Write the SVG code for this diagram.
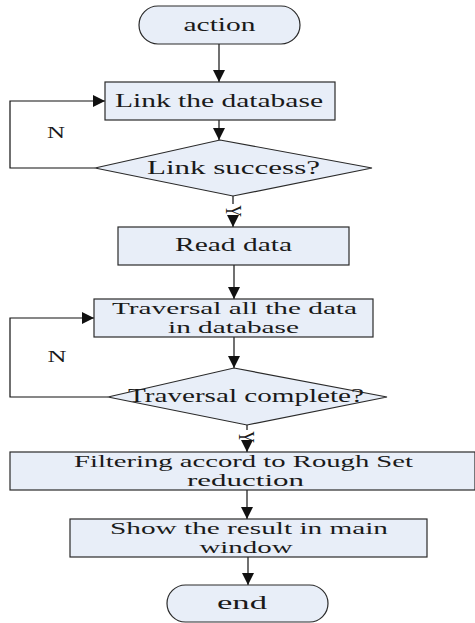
<svg xmlns="http://www.w3.org/2000/svg" width="475" height="623" viewBox="0 0 475 623">
  <style>
    .shape { fill: #E8EEF8; stroke: #2a2a2a; stroke-width: 1.2; }
    .label { font-family: "Liberation Serif", "Times New Roman", serif; font-size: 19px; fill: #1a1a1a; text-anchor: middle; }
    .small { font-size: 16.5px; }
    .tag { font-family: "Liberation Serif", "Times New Roman", serif; font-size: 16px; fill: #1a1a1a; text-anchor: middle; }
    .flow { fill: none; stroke: #111; stroke-width: 1.2; }
  </style>
  <defs>
    <marker id="arrow" markerUnits="userSpaceOnUse" markerWidth="12" markerHeight="12" refX="12" refY="6" orient="auto">
      <path d="M0,0 L12,6 L0,12 z" fill="#111"/>
    </marker>
  </defs>
  <rect width="475" height="623" fill="#fff"/>

  <!-- connectors -->
  <g id="connectors">
    <path class="flow" d="M219,44 V82" marker-end="url(#arrow)"/>
    <path class="flow" d="M219,120 V140" marker-end="url(#arrow)"/>
    <path class="flow" d="M95,168 H10 V101 H105" marker-end="url(#arrow)"/>
    <path class="flow" d="M233,196 V204 M233,217 V227" marker-end="url(#arrow)"/>
    <path class="flow" d="M234,265 V299" marker-end="url(#arrow)"/>
    <path class="flow" d="M234,337 V368" marker-end="url(#arrow)"/>
    <path class="flow" d="M108,397 H10 V318 H94" marker-end="url(#arrow)"/>
    <path class="flow" d="M247,425 V430 M247,443 V452" marker-end="url(#arrow)"/>
    <path class="flow" d="M247,490 V519" marker-end="url(#arrow)"/>
    <path class="flow" d="M248,557 V585" marker-end="url(#arrow)"/>
    <text class="tag" x="56" y="138" textLength="18" lengthAdjust="spacingAndGlyphs">N</text>
    <text class="tag" x="57" y="362" textLength="19" lengthAdjust="spacingAndGlyphs">N</text>
    <text class="tag" transform="translate(226,211) rotate(90) scale(1,1.4)" x="0" y="0">Y</text>
    <text class="tag" transform="translate(239,437) rotate(90) scale(1,1.4)" x="0" y="0">Y</text>
  </g>

  <g id="start">
    <rect class="shape" x="139" y="6" width="161" height="38" rx="19" ry="19"/>
    <text class="label" x="219.5" y="31" textLength="72" lengthAdjust="spacingAndGlyphs">action</text>
  </g>

  <g id="link-db">
    <rect class="shape" x="105" y="82" width="230" height="38"/>
    <text class="label" x="219" y="107" textLength="208" lengthAdjust="spacingAndGlyphs">Link the database</text>
  </g>

  <g id="link-check">
    <polygon class="shape" points="220,140 372,168 233,196 95,168"/>
    <text class="label" x="233.5" y="174" textLength="173" lengthAdjust="spacingAndGlyphs">Link  success?</text>
  </g>

  <g id="read-data">
    <rect class="shape" x="118" y="227" width="231" height="38"/>
    <text class="label" x="233.5" y="251" textLength="117" lengthAdjust="spacingAndGlyphs">Read data</text>
  </g>

  <g id="traverse">
    <rect class="shape" x="94" y="299" width="279" height="38"/>
    <text class="label small" x="234.5" y="314" textLength="245" lengthAdjust="spacingAndGlyphs">Traversal all the data</text>
    <text class="label small" x="233.5" y="333" textLength="131" lengthAdjust="spacingAndGlyphs">in database</text>
  </g>

  <g id="traverse-check">
    <polygon class="shape" points="234,368 387,397 247,425 108,397"/>
    <text class="label" x="246" y="402" textLength="236" lengthAdjust="spacingAndGlyphs">Traversal complete?</text>
  </g>

  <g id="filter">
    <rect class="shape" x="10" y="452" width="465" height="38"/>
    <text class="label small" x="243.5" y="467" textLength="339" lengthAdjust="spacingAndGlyphs">Filtering accord to Rough Set</text>
    <text class="label small" x="245.5" y="486" textLength="117" lengthAdjust="spacingAndGlyphs">reduction</text>
  </g>

  <g id="show-result">
    <rect class="shape" x="70" y="519" width="357" height="38"/>
    <text class="label small" x="249" y="534" textLength="278" lengthAdjust="spacingAndGlyphs">Show the result in main</text>
    <text class="label small" x="246" y="553" textLength="93" lengthAdjust="spacingAndGlyphs">window</text>
  </g>

  <g id="end">
    <rect class="shape" x="167" y="585" width="161" height="37" rx="18.5" ry="18.5"/>
    <text class="label" x="242" y="609" textLength="50" lengthAdjust="spacingAndGlyphs">end</text>
  </g>
</svg>
